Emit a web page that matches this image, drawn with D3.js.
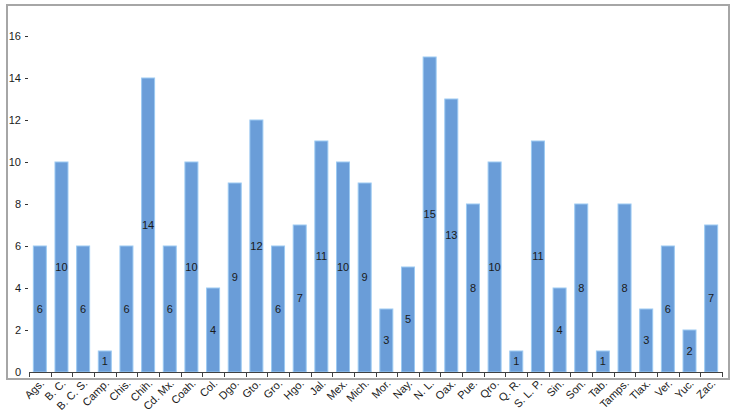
<!DOCTYPE html>
<html>
<head>
<meta charset="utf-8">
<script src="https://cdn.jsdelivr.net/npm/d3@7"></script>
<style>
  html, body { margin: 0; padding: 0; background: #fff; }
  svg { display: block; font-family: "Liberation Sans", Arial, sans-serif; }
</style>
</head>
<body>
<svg id="chart" width="736" height="420"></svg>
<script>
const categories = ["Ags.", "B. C.", "B. C. S.", "Camp.", "Chis.", "Chih.", "Cd. Mx.", "Coah.", "Col.", "Dgo.", "Gto.", "Gro.", "Hgo.", "Jal.", "Mex.", "Mich.", "Mor.", "Nay.", "N. L.", "Oax.", "Pue.", "Qro.", "Q. R.", "S. L. P.", "Sin.", "Son.", "Tab.", "Tamps.", "Tlax.", "Ver.", "Yuc.", "Zac."];
const values = [6, 10, 6, 1, 6, 14, 6, 10, 4, 9, 12, 6, 7, 11, 10, 9, 3, 5, 15, 13, 8, 10, 1, 11, 4, 8, 1, 8, 3, 6, 2, 7];
const yTicks = [0, 2, 4, 6, 8, 10, 12, 14, 16];

const svg = d3.select("#chart");

// outer frame
svg.append("rect")
  .attr("x", 7).attr("y", 5).attr("width", 722).attr("height", 374)
  .attr("fill", "none").attr("stroke", "#a6a6a6").attr("stroke-width", 2);

const x = d3.scaleBand().domain(categories).range([29, 722]).paddingInner(0.4).paddingOuter(0.2);
const y = d3.scaleLinear().domain([0, 16]).range([372, 36]);

// bars
svg.append("g").selectAll("rect").data(values).join("rect")
  .attr("x", (d, i) => x(categories[i]))
  .attr("y", d => y(d))
  .attr("width", x.bandwidth())
  .attr("height", d => y(0) - y(d))
  .attr("fill", "#6a9dd8")
  .attr("stroke", "#9ccaf2")
  .attr("stroke-width", 1);

// bar value labels
svg.append("g").selectAll("text").data(values).join("text")
  .attr("x", (d, i) => x(categories[i]) + x.bandwidth() / 2)
  .attr("y", d => (y(d) + y(0)) / 2)
  .attr("dy", "0.35em")
  .attr("text-anchor", "middle")
  .attr("font-size", 11)
  .attr("fill", "#1a1a1a")
  .text(d => d);

// y axis: labels with short dash ticks, no domain line
const yAxis = svg.append("g").attr("transform", "translate(29,0)")
  .call(d3.axisLeft(y).tickValues(yTicks).tickSize(3).tickPadding(5).tickFormat(d3.format("d")));
yAxis.select(".domain").remove();
yAxis.selectAll(".tick line").attr("stroke", "#333").attr("transform", "translate(-1,0)");
yAxis.selectAll(".tick").filter(d => d === 0).select("line").remove();
yAxis.selectAll("text").attr("font-size", 11).attr("fill", "#1a1a1a").attr("font-family", "Liberation Sans, Arial, sans-serif");

// x axis line with ticks at band boundaries
const xg = svg.append("g");
xg.append("line").attr("x1", 29).attr("x2", 722).attr("y1", 372.5).attr("y2", 372.5)
  .attr("stroke", "#404040").attr("stroke-width", 1);
const boundaries = categories.map(c => x(c) - x.step() * x.paddingInner() / 2).concat([722]);
boundaries[0] = 29;
xg.selectAll("line.t").data(boundaries).join("line").attr("class", "t")
  .attr("x1", d => Math.round(d) + 0.5).attr("x2", d => Math.round(d) + 0.5)
  .attr("y1", 372).attr("y2", 377)
  .attr("stroke", "#404040").attr("stroke-width", 1);

// x labels rotated
svg.append("g").selectAll("text").data(categories).join("text")
  .attr("transform", d => `translate(${x(d) + x.bandwidth() / 2 + 5},${384}) rotate(-45)`)
  .attr("text-anchor", "end")
  .attr("font-size", 11)
  .attr("fill", "#1a1a1a")
  .text(d => d);
</script>
</body>
</html>
